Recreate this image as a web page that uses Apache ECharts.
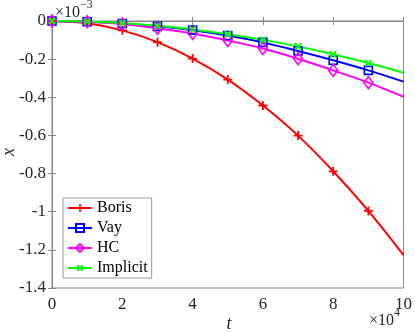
<!DOCTYPE html>
<html>
<head>
<meta charset="utf-8">
<script src="https://cdn.jsdelivr.net/npm/echarts@6/dist/echarts.min.js"></script>
<style>
html, body { margin: 0; padding: 0; background: #fff; }
#plot { width: 415px; height: 333px; }
</style>
</head>
<body>
<div id="plot"></div>
<script>
// t in units of 1e4, x in units of 1e-3
var tValues = [0, 1, 2, 3, 4, 5, 6, 7, 8, 9, 10];
var borisValues = [0, -0.012, -0.049, -0.111, -0.197, -0.307, -0.443, -0.601, -0.788, -0.996, -1.228];
var vayValues = [0, -0.004, -0.013, -0.028, -0.048, -0.076, -0.112, -0.157, -0.206, -0.259, -0.318];
var hcValues = [0, -0.004, -0.016, -0.038, -0.065, -0.102, -0.144, -0.198, -0.259, -0.323, -0.397];
var implicitValues = [0, -0.003, -0.011, -0.025, -0.044, -0.069, -0.099, -0.133, -0.175, -0.220, -0.271];
var seriesNames = ['Boris', 'Vay', 'HC', 'Implicit'];

var font = 'Liberation Serif';
var axisGray = '#868686';
var plusPath = 'path://M4,0h2v4h4v2h-4v4h-2v-4h-4v-2h4z';

function toData(vals) {
    // markers on every point except the last one
    return tValues.map(function (t, i) {
        var d = { value: [t, vals[i]] };
        if (i === tValues.length - 1) d.symbol = 'none';
        return d;
    });
}

function makeSeries(name, vals, color, symbol, size, filled, rotate) {
    return {
        name: name,
        type: 'line',
        smooth: 0.35,
        data: toData(vals),
        symbol: symbol,
        symbolSize: size,
        symbolRotate: rotate || 0,
        showAllSymbol: true,
        lineStyle: { color: color, width: 2 },
        itemStyle: filled
            ? { color: color, borderWidth: 0 }
            : { color: 'rgba(255,255,255,0)', borderColor: color, borderWidth: 1.6 },
        emphasis: { disabled: true },
        z: 2
    };
}

var chart = echarts.init(document.getElementById('plot'));
chart.setOption({
    animation: false,
    backgroundColor: '#fff',
    textStyle: { fontFamily: font },
    grid: {
        left: 52, right: 9, top: 21, bottom: 45,
        show: true, borderColor: axisGray, borderWidth: 1, backgroundColor: '#fff'
    },
    legend: {
        orient: 'vertical',
        left: 63, top: 198,
        data: seriesNames,
        itemWidth: 24, itemHeight: 10, itemGap: 4,
        padding: [2, 4, 2, 4],
        borderColor: '#9a9a9a', borderWidth: 1, backgroundColor: '#fff',
        textStyle: { fontFamily: font, fontSize: 16, color: '#000', lineHeight: 16 }
    },
    xAxis: [{
        type: 'value', min: 0, max: 10, interval: 2,
        axisLine: { lineStyle: { color: axisGray } },
        axisTick: { inside: true, length: 4, lineStyle: { color: axisGray } },
        axisLabel: { color: '#262626', fontSize: 17, fontFamily: font, margin: 8 },
        splitLine: { show: false }
    }, {
        type: 'value', min: 0, max: 10, interval: 2, position: 'top',
        axisLine: { lineStyle: { color: axisGray } },
        axisTick: { inside: true, length: 4, lineStyle: { color: axisGray } },
        axisLabel: { show: false },
        splitLine: { show: false }
    }],
    yAxis: [{
        type: 'value', min: -1.4, max: 0, interval: 0.2,
        axisLine: { show: true, lineStyle: { color: axisGray } },
        axisTick: { show: true, inside: true, length: 4, lineStyle: { color: axisGray } },
        axisLabel: {
            color: '#262626', fontSize: 17, fontFamily: font, margin: 6,
            formatter: function (v) { return String(Math.round(v * 10) / 10); }
        },
        splitLine: { show: false }
    }, {
        type: 'value', min: -1.4, max: 0, interval: 0.2, position: 'right',
        axisLine: { show: true, lineStyle: { color: axisGray } },
        axisTick: { show: true, inside: true, length: 4, lineStyle: { color: axisGray } },
        axisLabel: { show: false },
        splitLine: { show: false }
    }],
    series: [
        makeSeries('Boris', borisValues, '#ff0000', plusPath, 9, true, 0),
        makeSeries('Vay', vayValues, '#0000ff', 'rect', 8, false, 0),
        makeSeries('HC', hcValues, '#ff00ff', 'diamond', [9, 12], false, 0),
        makeSeries('Implicit', implicitValues, '#00ff00', plusPath, 9, true, 45)
    ],
    graphic: [{
        type: 'text', left: 55, top: -1,
        style: {
            text: '{b|×10}{s|−3}',
            rich: {
                b: { fontFamily: font, fontSize: 16, fill: '#262626', padding: [6, 0, 0, 0] },
                s: { fontFamily: font, fontSize: 12, fill: '#262626', verticalAlign: 'top' }
            }
        }
    }, {
        type: 'text', left: 369, top: 307,
        style: {
            text: '{b|×10}{s|4}',
            rich: {
                b: { fontFamily: font, fontSize: 16, fill: '#262626', padding: [6, 0, 0, 0] },
                s: { fontFamily: font, fontSize: 12, fill: '#262626', verticalAlign: 'top' }
            }
        }
    }, {
        type: 'text', x: 229, y: 324,
        style: {
            text: 't', fontFamily: font, fontSize: 18, fontStyle: 'italic',
            fill: '#262626', align: 'center', verticalAlign: 'middle'
        }
    }, {
        type: 'text', x: 9, y: 152, rotation: Math.PI / 2,
        style: {
            text: 'x', fontFamily: font, fontSize: 18, fontStyle: 'italic',
            fill: '#262626', align: 'center', verticalAlign: 'middle'
        }
    }]
});
</script>
</body>
</html>
